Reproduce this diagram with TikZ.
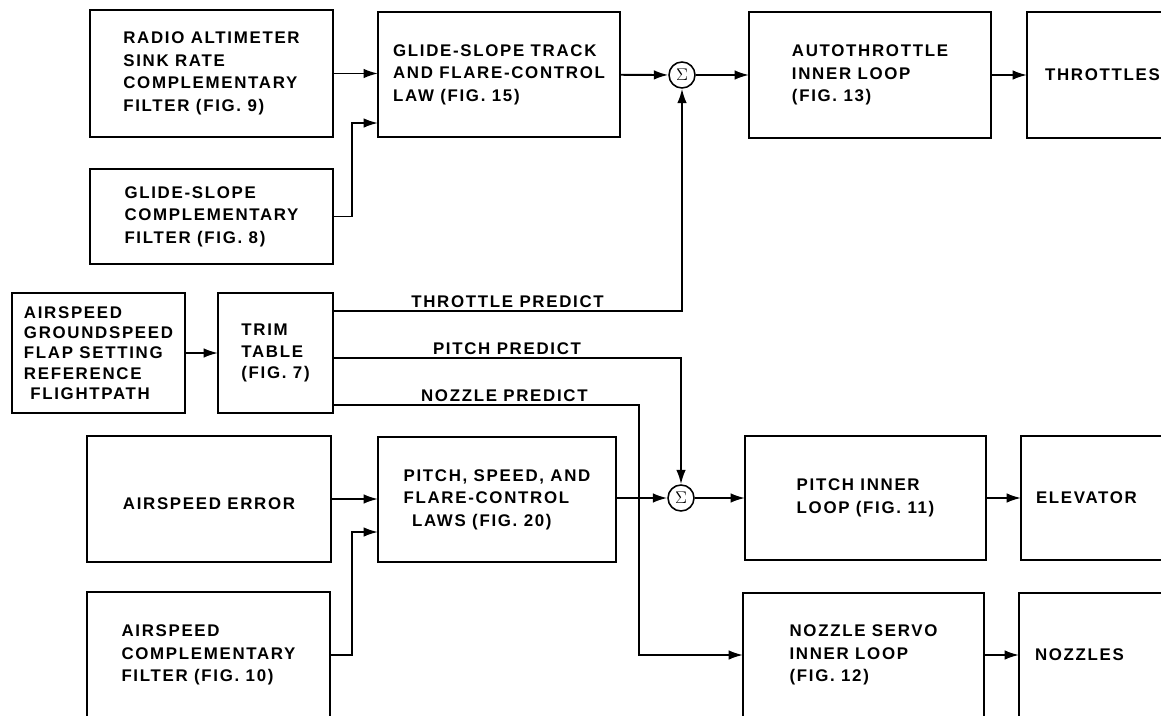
\documentclass[tikz,border=0pt]{standalone}
\usepackage{fontspec}
\setmainfont{Liberation Sans}[LetterSpace=10]
\usetikzlibrary{arrows.meta,positioning}

\begin{document}
\begin{tikzpicture}[
    x=0.025cm, y=-0.025cm,
    font=\fontsize{12}{16}\selectfont\bfseries,
    box/.style={draw, line width=1.3pt, inner sep=0pt, outer sep=0pt, align=left, execute at begin node={\rule{0pt}{15pt}}},
    cutbox/.style={draw, line width=1.3pt, anchor=west, outer sep=0pt, text width=4cm, minimum height=3.12cm, align=left},
    sumnode/.style={draw, circle, line width=1.1pt, minimum size=0.65cm, inner sep=0pt, font=\large},
    link/.style={-{Latex[length=3.6mm,width=2.4mm]}, line width=1.3pt},
    lbl/.style={above=2pt, inner sep=0pt}
]
\useasboundingbox (0,0) rectangle (1161,715);
\clip (0,0) rectangle (1161,715);

% upper branch
\node[box, minimum width=6.075cm, minimum height=3.175cm] (radalt) at (211.5,73.5) {RADIO ALTIMETER\\SINK RATE\\COMPLEMENTARY\\FILTER (FIG. 9)};
\node[box, minimum width=6.075cm, minimum height=2.375cm] (gsfilt) at (211.5,216.5) {GLIDE-SLOPE\\COMPLEMENTARY\\FILTER (FIG. 8)};
\node[box, minimum width=6.05cm, minimum height=3.125cm] (gstrack) at (499,74.5) {GLIDE-SLOPE TRACK\\AND FLARE-CONTROL\\LAW (FIG. 15)};
\node[sumnode] (sumA) at (682,75) {$\Sigma$};
\node[box, minimum width=6.05cm, minimum height=3.15cm] (autothr) at (870,75) {AUTOTHROTTLE\\INNER LOOP\\(FIG. 13)};
\node[cutbox, inner xsep=0.45cm, minimum height=3.15cm] (throttles) at (1027,75) {THROTTLES};

% trim table
\node[box, minimum width=4.325cm, minimum height=3cm, font=\fontsize{12}{14.5}\selectfont\bfseries] (inputs) at (98.5,353) {AIRSPEED\\GROUNDSPEED\\FLAP SETTING\\REFERENCE\\\ FLIGHTPATH};
\node[box, minimum width=2.875cm, minimum height=3cm, font=\fontsize{12}{15}\selectfont\bfseries] (trim) at (275.5,353) {TRIM\\TABLE\\(FIG. 7)};
\coordinate (nozbend) at (639,405);

% lower branch
\node[box, minimum width=6.1cm, minimum height=3.15cm] (aerr) at (209,499) {AIRSPEED ERROR};
\node[box, minimum width=6.075cm, minimum height=3.15cm] (asfilt) at (208.5,655) {AIRSPEED\\COMPLEMENTARY\\FILTER (FIG. 10)};
\node[box, minimum width=5.95cm, minimum height=3.125cm] (pitchlaw) at (497,499.5) {PITCH, SPEED, AND\\FLARE-CONTROL\\\hspace{0.5em}LAWS (FIG. 20)};
\node[sumnode] (sumB) at (681,498) {$\Sigma$};
\node[box, minimum width=6.025cm, minimum height=3.1cm] (pitchloop) at (865.5,498) {PITCH INNER\\LOOP (FIG. 11)};
\node[box, minimum width=6.025cm, minimum height=3.1cm] (nozloop) at (863.5,655) {NOZZLE SERVO\\INNER LOOP\\(FIG. 12)};
\node[cutbox, inner xsep=0.375cm, minimum height=3.1cm] (elevator) at (1021,498) {ELEVATOR};
\node[cutbox, inner xsep=0.4cm, minimum height=3.1cm] (nozzles) at (1019,655) {NOZZLES};

\draw[link] (radalt.east) -- (radalt.east -| gstrack.west);
\draw[link] (gsfilt.east) -- ++(19,0) |- ([yshift=0.35cm]gstrack.south west);
\draw[link] (gstrack) -- (sumA);
\draw[link] (sumA) -- (autothr);
\draw[link] (autothr) -- (throttles.west |- autothr);

\draw[link] (inputs) -- (trim);
\draw[link] ([yshift=-0.45cm]trim.north east) -| node[pos=0.25, lbl] (thrlbl) {THROTTLE PREDICT} (sumA.south);
\draw[link] ([yshift=-0.125cm]trim.east) -| node[pos=0.25, lbl] (pitlbl) {PITCH PREDICT} (sumB.north);
\draw[link] ([yshift=0.2cm]trim.south east) -- node[pos=0.56, lbl] (nozlbl) {NOZZLE PREDICT} (nozbend) |- (nozloop.west);

\draw[link] (aerr) -- (aerr -| pitchlaw.west);
\draw[link] (asfilt.east) -- ++(22,0) |- ([yshift=0.75cm]pitchlaw.south west);
\draw[link] (pitchlaw.east |- sumB) -- (sumB);
\draw[link] (sumB) -- (pitchloop);
\draw[link] (pitchloop) -- (elevator.west |- pitchloop);
\draw[link] (nozloop) -- (nozzles.west |- nozloop);
\end{tikzpicture}
\end{document}
